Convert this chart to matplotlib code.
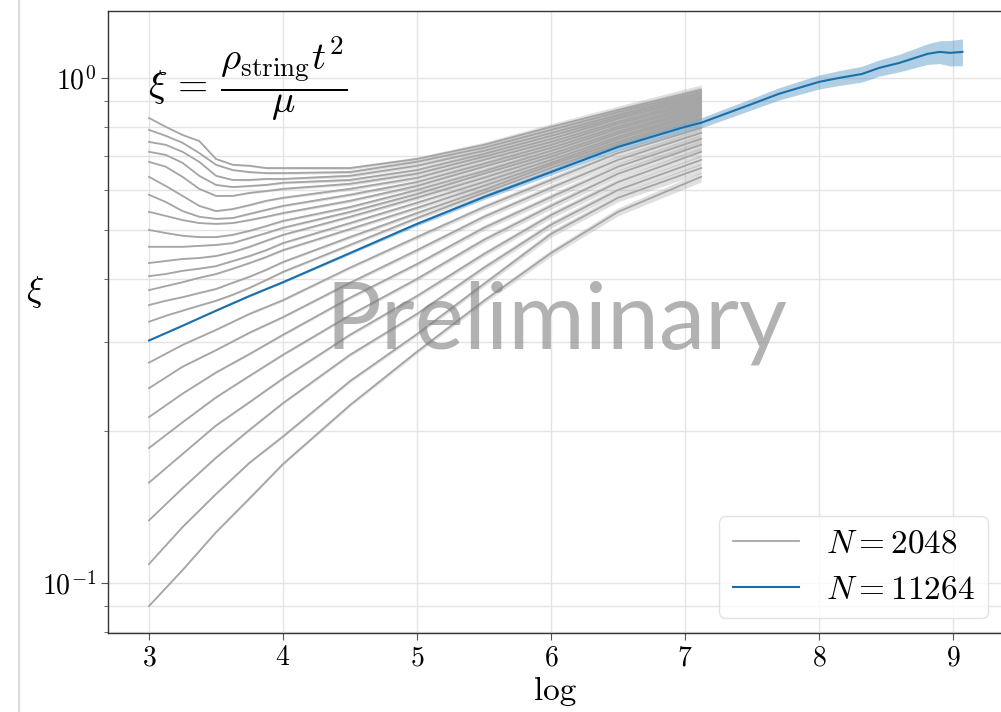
import matplotlib
matplotlib.use("Agg")
import matplotlib.pyplot as plt
import numpy as np
from matplotlib.lines import Line2D
from matplotlib.ticker import NullFormatter

plt.rcParams["font.family"] = "serif"
plt.rcParams["font.serif"] = ["cmr10"]
plt.rcParams["mathtext.fontset"] = "cm"
plt.rcParams["axes.formatter.use_mathtext"] = True
plt.rcParams["axes.unicode_minus"] = False

# N = 2048 runs that start above the N = 11264 curve (finer sampling for the early dip)
x_upper = [3.0, 3.125, 3.25, 3.375, 3.5, 3.625, 3.75, 3.875, 4.0, 4.5, 5.0, 5.5, 6.0, 6.5, 7.12]
upper_xi = [
    [0.833, 0.800, 0.771, 0.750, 0.691, 0.673, 0.670, 0.663, 0.663, 0.663, 0.691, 0.737, 0.800, 0.864, 0.947],
    [0.789, 0.768, 0.744, 0.710, 0.673, 0.657, 0.651, 0.648, 0.648, 0.651, 0.682, 0.727, 0.789, 0.856, 0.938],
    [0.747, 0.737, 0.714, 0.682, 0.640, 0.628, 0.628, 0.631, 0.631, 0.640, 0.670, 0.717, 0.778, 0.845, 0.930],
    [0.714, 0.704, 0.679, 0.640, 0.614, 0.608, 0.611, 0.614, 0.620, 0.628, 0.657, 0.707, 0.768, 0.837, 0.921],
    [0.682, 0.667, 0.637, 0.603, 0.584, 0.584, 0.592, 0.597, 0.603, 0.617, 0.646, 0.698, 0.757, 0.830, 0.913],
    [0.637, 0.611, 0.584, 0.558, 0.545, 0.550, 0.560, 0.571, 0.579, 0.603, 0.634, 0.688, 0.747, 0.818, 0.905],
    [0.587, 0.568, 0.545, 0.531, 0.526, 0.528, 0.538, 0.548, 0.558, 0.587, 0.622, 0.676, 0.737, 0.811, 0.896],
    [0.543, 0.533, 0.523, 0.516, 0.514, 0.516, 0.523, 0.531, 0.540, 0.571, 0.611, 0.667, 0.727, 0.800, 0.888],
    [0.500, 0.493, 0.487, 0.484, 0.484, 0.489, 0.498, 0.509, 0.521, 0.555, 0.600, 0.654, 0.717, 0.793, 0.880],
    [0.463, 0.463, 0.463, 0.465, 0.467, 0.471, 0.482, 0.493, 0.505, 0.543, 0.589, 0.646, 0.707, 0.782, 0.872],
    [0.430, 0.434, 0.438, 0.440, 0.444, 0.452, 0.463, 0.476, 0.489, 0.531, 0.579, 0.634, 0.698, 0.775, 0.864],
    [0.405, 0.409, 0.415, 0.419, 0.424, 0.434, 0.444, 0.456, 0.471, 0.516, 0.566, 0.622, 0.688, 0.764, 0.856],
    [0.380, 0.387, 0.394, 0.402, 0.409, 0.419, 0.430, 0.442, 0.456, 0.502, 0.553, 0.611, 0.679, 0.757, 0.849],
    [0.355, 0.362, 0.368, 0.375, 0.382, 0.393, 0.404, 0.417, 0.432, 0.484, 0.540, 0.600, 0.673, 0.747, 0.841],
    [0.329, 0.338, 0.346, 0.354, 0.362, 0.372, 0.384, 0.398, 0.413, 0.467, 0.528, 0.592, 0.663, 0.740, 0.833],
]
upper_err = [0.0, 0.001, 0.002, 0.002, 0.003, 0.003, 0.004, 0.004, 0.005, 0.007, 0.009, 0.012, 0.015, 0.018, 0.023]

# N = 2048 runs that start below it
x_lower = [3.0, 3.25, 3.5, 3.75, 4.0, 4.5, 5.0, 5.5, 6.0, 6.5, 7.12]
lower_xi = [
    [0.273, 0.296, 0.317, 0.341, 0.363, 0.421, 0.484, 0.555, 0.628, 0.710, 0.796],
    [0.243, 0.268, 0.289, 0.313, 0.336, 0.393, 0.456, 0.531, 0.606, 0.688, 0.778],
    [0.213, 0.237, 0.261, 0.284, 0.310, 0.367, 0.428, 0.505, 0.581, 0.667, 0.757],
    [0.185, 0.208, 0.233, 0.257, 0.283, 0.339, 0.400, 0.478, 0.558, 0.646, 0.737],
    [0.158, 0.180, 0.205, 0.228, 0.254, 0.310, 0.370, 0.448, 0.535, 0.622, 0.714],
    [0.133, 0.154, 0.177, 0.201, 0.227, 0.283, 0.341, 0.421, 0.512, 0.600, 0.688],
    [0.109, 0.129, 0.150, 0.173, 0.195, 0.251, 0.311, 0.391, 0.491, 0.579, 0.663],
    [0.090, 0.106, 0.126, 0.147, 0.172, 0.225, 0.287, 0.362, 0.450, 0.543, 0.637],
]
lower_err = [0.0, 0.002, 0.003, 0.004, 0.005, 0.007, 0.009, 0.012, 0.015, 0.018, 0.023]

# N = 11264 run
x_blue = [3.0, 3.25, 3.5, 3.75, 4.0, 4.5, 5.0, 5.5, 6.0, 6.5, 7.0, 7.12,
          7.5, 7.7, 8.0, 8.15, 8.32, 8.45, 8.6, 8.81, 8.9, 8.98, 9.07]
xi_blue = [0.302, 0.323, 0.346, 0.370, 0.394, 0.450, 0.514, 0.581, 0.651, 0.730, 0.800, 0.815,
           0.888, 0.930, 0.982, 1.000, 1.018, 1.047, 1.071, 1.116, 1.126, 1.121, 1.126]
blue_err = [0.0, 0.001, 0.002, 0.003, 0.004, 0.006, 0.009, 0.011, 0.014, 0.017, 0.021, 0.023,
            0.026, 0.028, 0.032, 0.034, 0.036, 0.037, 0.040, 0.047, 0.052, 0.058, 0.061]

gray_c = "#a5a5a5"
blue_c = "#1a6fab"

fig = plt.figure(figsize=(10.01, 7.12), dpi=100)
ax = fig.add_axes([0.1079, 0.111, 0.8921, 0.8736])


def draw_runs(xs, rows, err):
    x = np.array(xs)
    e = np.array(err)
    for row in rows:
        y = np.array(row)
        ax.fill_between(x, y * (1 - e), y * (1 + e), color="#9a9a9a", alpha=0.3, lw=0)
        ax.plot(x, y, color=gray_c, lw=1.3)


draw_runs(x_upper, upper_xi, upper_err)
draw_runs(x_lower, lower_xi, lower_err)

xb = np.array(x_blue)
yb = np.array(xi_blue)
eb = np.array(blue_err)
ax.fill_between(xb, yb * (1 - eb), yb * (1 + eb), color="#1f77b4", alpha=0.35, lw=0)
ax.plot(xb, yb, color=blue_c, lw=1.5)

ax.set_yscale("log")
ax.set_xlim(2.694, 9.358)
ax.set_ylim(0.0796, 1.357)
ax.yaxis.set_minor_formatter(NullFormatter())
ax.set_xticks([3, 4, 5, 6, 7, 8, 9])

ax.grid(True, which="both", color="#e4e4e4", lw=1.0)
ax.set_axisbelow(True)
ax.spines["right"].set_visible(False)
for s in ("left", "bottom", "top"):
    ax.spines[s].set_color("#333333")
    ax.spines[s].set_linewidth(1.0)
ax.tick_params(which="major", labelsize=20, length=5, color="#555555")
ax.tick_params(which="minor", length=3, color="#555555")

ax.set_xlabel("log", fontsize=24)
ax.xaxis.set_label_coords(0.5006, -0.07)
ax.set_ylabel(r"$\xi$", fontsize=26, rotation=0)
ax.yaxis.set_label_coords(-0.082, 0.519)

ax.text(0.0448, 0.891, r"$\xi\,=\,\dfrac{\rho_{\rm string}t^2}{\mu}$", transform=ax.transAxes,
        fontsize=28, ha="left", va="center")
ax.text(0.502, 0.458, "Preliminary", transform=ax.transAxes, fontsize=67,
        family="Lato", color="#808080", alpha=0.6, ha="center", va="baseline")

handles = [Line2D([], [], color=gray_c, lw=1.3), Line2D([], [], color=blue_c, lw=1.5)]
ax.legend(handles, [r"$N = 2048$", r"$N = 11264$"], loc="lower right",
          bbox_to_anchor=(0.9854, 0.024), borderaxespad=0, fontsize=24,
          framealpha=0.8, edgecolor="#dddddd")

fig.add_artist(Line2D([0.019, 0.019], [0, 1], color="#dadada", lw=1.5))

fig.savefig("out.png", dpi=100)
